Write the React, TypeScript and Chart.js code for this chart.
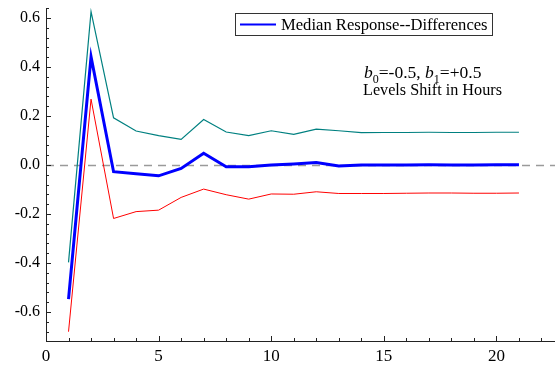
import React, { useEffect, useRef } from "react";
import { Chart, registerables } from "chart.js";

Chart.register(...registerables);

const steps = [1, 2, 3, 4, 5, 6, 7, 8, 9, 10, 11, 12, 13, 14, 15, 16, 17, 18, 19, 20, 21];
const medianResponse = [-0.547, 0.442, -0.027, -0.035, -0.044, -0.014, 0.048, -0.007, -0.007, 0.0, 0.004, 0.01, -0.004, 0.0, 0.0, 0.0, 0.001, 0.0, 0.0, 0.001, 0.001];
const upperBand = [-0.397, 0.626, 0.193, 0.139, 0.12, 0.105, 0.186, 0.135, 0.12, 0.14, 0.125, 0.147, 0.14, 0.132, 0.133, 0.133, 0.134, 0.133, 0.133, 0.134, 0.134];
const lowerBand = [-0.68, 0.269, -0.218, -0.19, -0.184, -0.132, -0.098, -0.121, -0.139, -0.118, -0.119, -0.109, -0.116, -0.116, -0.116, -0.115, -0.114, -0.114, -0.115, -0.115, -0.114];
const xTicks = [0, 5, 10, 15, 20];
const yTicks = [-0.6, -0.4, -0.2, 0.0, 0.2, 0.4, 0.6];
const legendLabel = "Median Response--Differences";
const noteLine2 = "Levels Shift in Hours";

const SERIF = "'Liberation Serif', 'Times New Roman', serif";
Chart.defaults.font.family = SERIF;

const decorPlugin = {
  id: "decor",
  beforeDatasetsDraw(chart: any) {
    const { ctx, chartArea } = chart;
    const ys = chart.scales.y;
    const y0 = Math.round(ys.getPixelForValue(0)) + 0.5;
    ctx.save();
    ctx.strokeStyle = "#9a9a9a";
    ctx.lineWidth = 1.5;
    ctx.setLineDash([8, 6]);
    ctx.beginPath();
    ctx.moveTo(chartArea.left, y0);
    ctx.lineTo(chartArea.right, y0);
    ctx.stroke();
    ctx.restore();
  },
  afterDraw(chart: any) {
    const { ctx, chartArea } = chart;
    const xs = chart.scales.x;
    const ys = chart.scales.y;
    ctx.save();
    ctx.strokeStyle = "#222";
    ctx.lineWidth = 1;
    for (let k = -17; k <= 16; k++) {
      const v = k * 0.04;
      if (v < ys.min || v > ys.max) continue;
      const py = Math.round(ys.getPixelForValue(v)) + 0.5;
      const len = k % 5 === 0 ? 5 : 3;
      ctx.beginPath();
      ctx.moveTo(chartArea.left, py);
      ctx.lineTo(chartArea.left + len, py);
      ctx.stroke();
    }
    for (let k = 1; k <= 22; k++) {
      const px = Math.round(xs.getPixelForValue(k)) + 0.5;
      const len = k % 5 === 0 ? 5 : 3;
      ctx.beginPath();
      ctx.moveTo(px, chartArea.bottom);
      ctx.lineTo(px, chartArea.bottom - len);
      ctx.stroke();
    }
    ctx.strokeStyle = "#333";
    ctx.strokeRect(235.5, 13.5, 257, 22);
    ctx.strokeStyle = "#0000ff";
    ctx.lineWidth = 2;
    ctx.beginPath();
    ctx.moveTo(240, 24.5);
    ctx.lineTo(276, 24.5);
    ctx.stroke();
    ctx.fillStyle = "#000";
    ctx.font = `16.6px ${SERIF}`;
    ctx.textBaseline = "alphabetic";
    ctx.textAlign = "left";
    ctx.fillText(legendLabel, 281, 30);

    let x = 364;
    const base = 78;
    const parts: [string, string, number][] = [
      ["b", "italic 17.5px", 0],
      ["0", "12px", 5],
      ["=-0.5, ", "17.5px", 0],
      ["b", "italic 17.5px", 0],
      ["1", "12px", 5],
      ["=+0.5", "17.5px", 0],
    ];
    for (const [t, f, dy] of parts) {
      ctx.font = `${f} ${SERIF}`;
      ctx.fillText(t, x, base + dy);
      x += ctx.measureText(t).width;
    }
    ctx.font = `16.2px ${SERIF}`;
    ctx.fillText(noteLine2, 363, 95);
    ctx.restore();
  },
};

export default function App() {
  const ref = useRef<HTMLCanvasElement | null>(null);
  useEffect(() => {
    if (!ref.current) return;
    const mk = (arr: number[]) => steps.map((s, i) => ({ x: s, y: arr[i] }));
    const chart = new Chart(ref.current, {
      type: "line",
      data: {
        datasets: [
          { label: legendLabel, data: mk(medianResponse), borderColor: "#0000ff", borderWidth: 3, pointRadius: 0, tension: 0 },
          { label: "upper", data: mk(upperBand), borderColor: "#008080", borderWidth: 1.2, pointRadius: 0, tension: 0 },
          { label: "lower", data: mk(lowerBand), borderColor: "#ff0000", borderWidth: 1, pointRadius: 0, tension: 0 },
        ],
      },
      options: {
        animation: false,
        responsive: false,
        events: [],
        layout: { padding: { top: 8, right: 0, left: 0, bottom: 0 } },
        plugins: { legend: { display: false }, tooltip: { enabled: false } },
        scales: {
          x: {
            type: "linear",
            min: 0,
            max: 22.6,
            grid: { display: false, drawTicks: false, drawOnChartArea: false },
            border: { display: true, color: "#222", width: 1 },
            afterBuildTicks: (s: any) => {
              s.ticks = xTicks.map((v) => ({ value: v }));
            },
            afterFit: (s: any) => {
              s.height = 24;
              s.paddingLeft = 0;
              s.paddingRight = 0;
            },
            ticks: {
              color: "#000",
              font: { family: SERIF, size: 17 },
              padding: 5,
              maxRotation: 0,
              autoSkip: false,
              callback: (v: any) => String(v),
            },
          },
          y: {
            type: "linear",
            min: -0.718,
            max: 0.641,
            grid: { display: false, drawTicks: false, drawOnChartArea: false },
            border: { display: true, color: "#222", width: 1 },
            afterBuildTicks: (s: any) => {
              s.ticks = yTicks.map((v) => ({ value: v }));
            },
            afterFit: (s: any) => {
              s.width = 46;
              s.paddingTop = 0;
              s.paddingBottom = 0;
            },
            ticks: {
              color: "#000",
              font: { family: SERIF, size: 16 },
              padding: 6,
              autoSkip: false,
              callback: (v: any) => Number(v).toFixed(1),
            },
          },
        },
      },
      plugins: [decorPlugin],
    } as any);
    return () => chart.destroy();
  }, []);
  return (
    <div style={{ position: "fixed", left: 0, top: 0, width: 555, height: 365, background: "#fff" }}>
      <canvas ref={ref} width={555} height={365} style={{ display: "block", width: 555, height: 365 }} />
    </div>
  );
}
